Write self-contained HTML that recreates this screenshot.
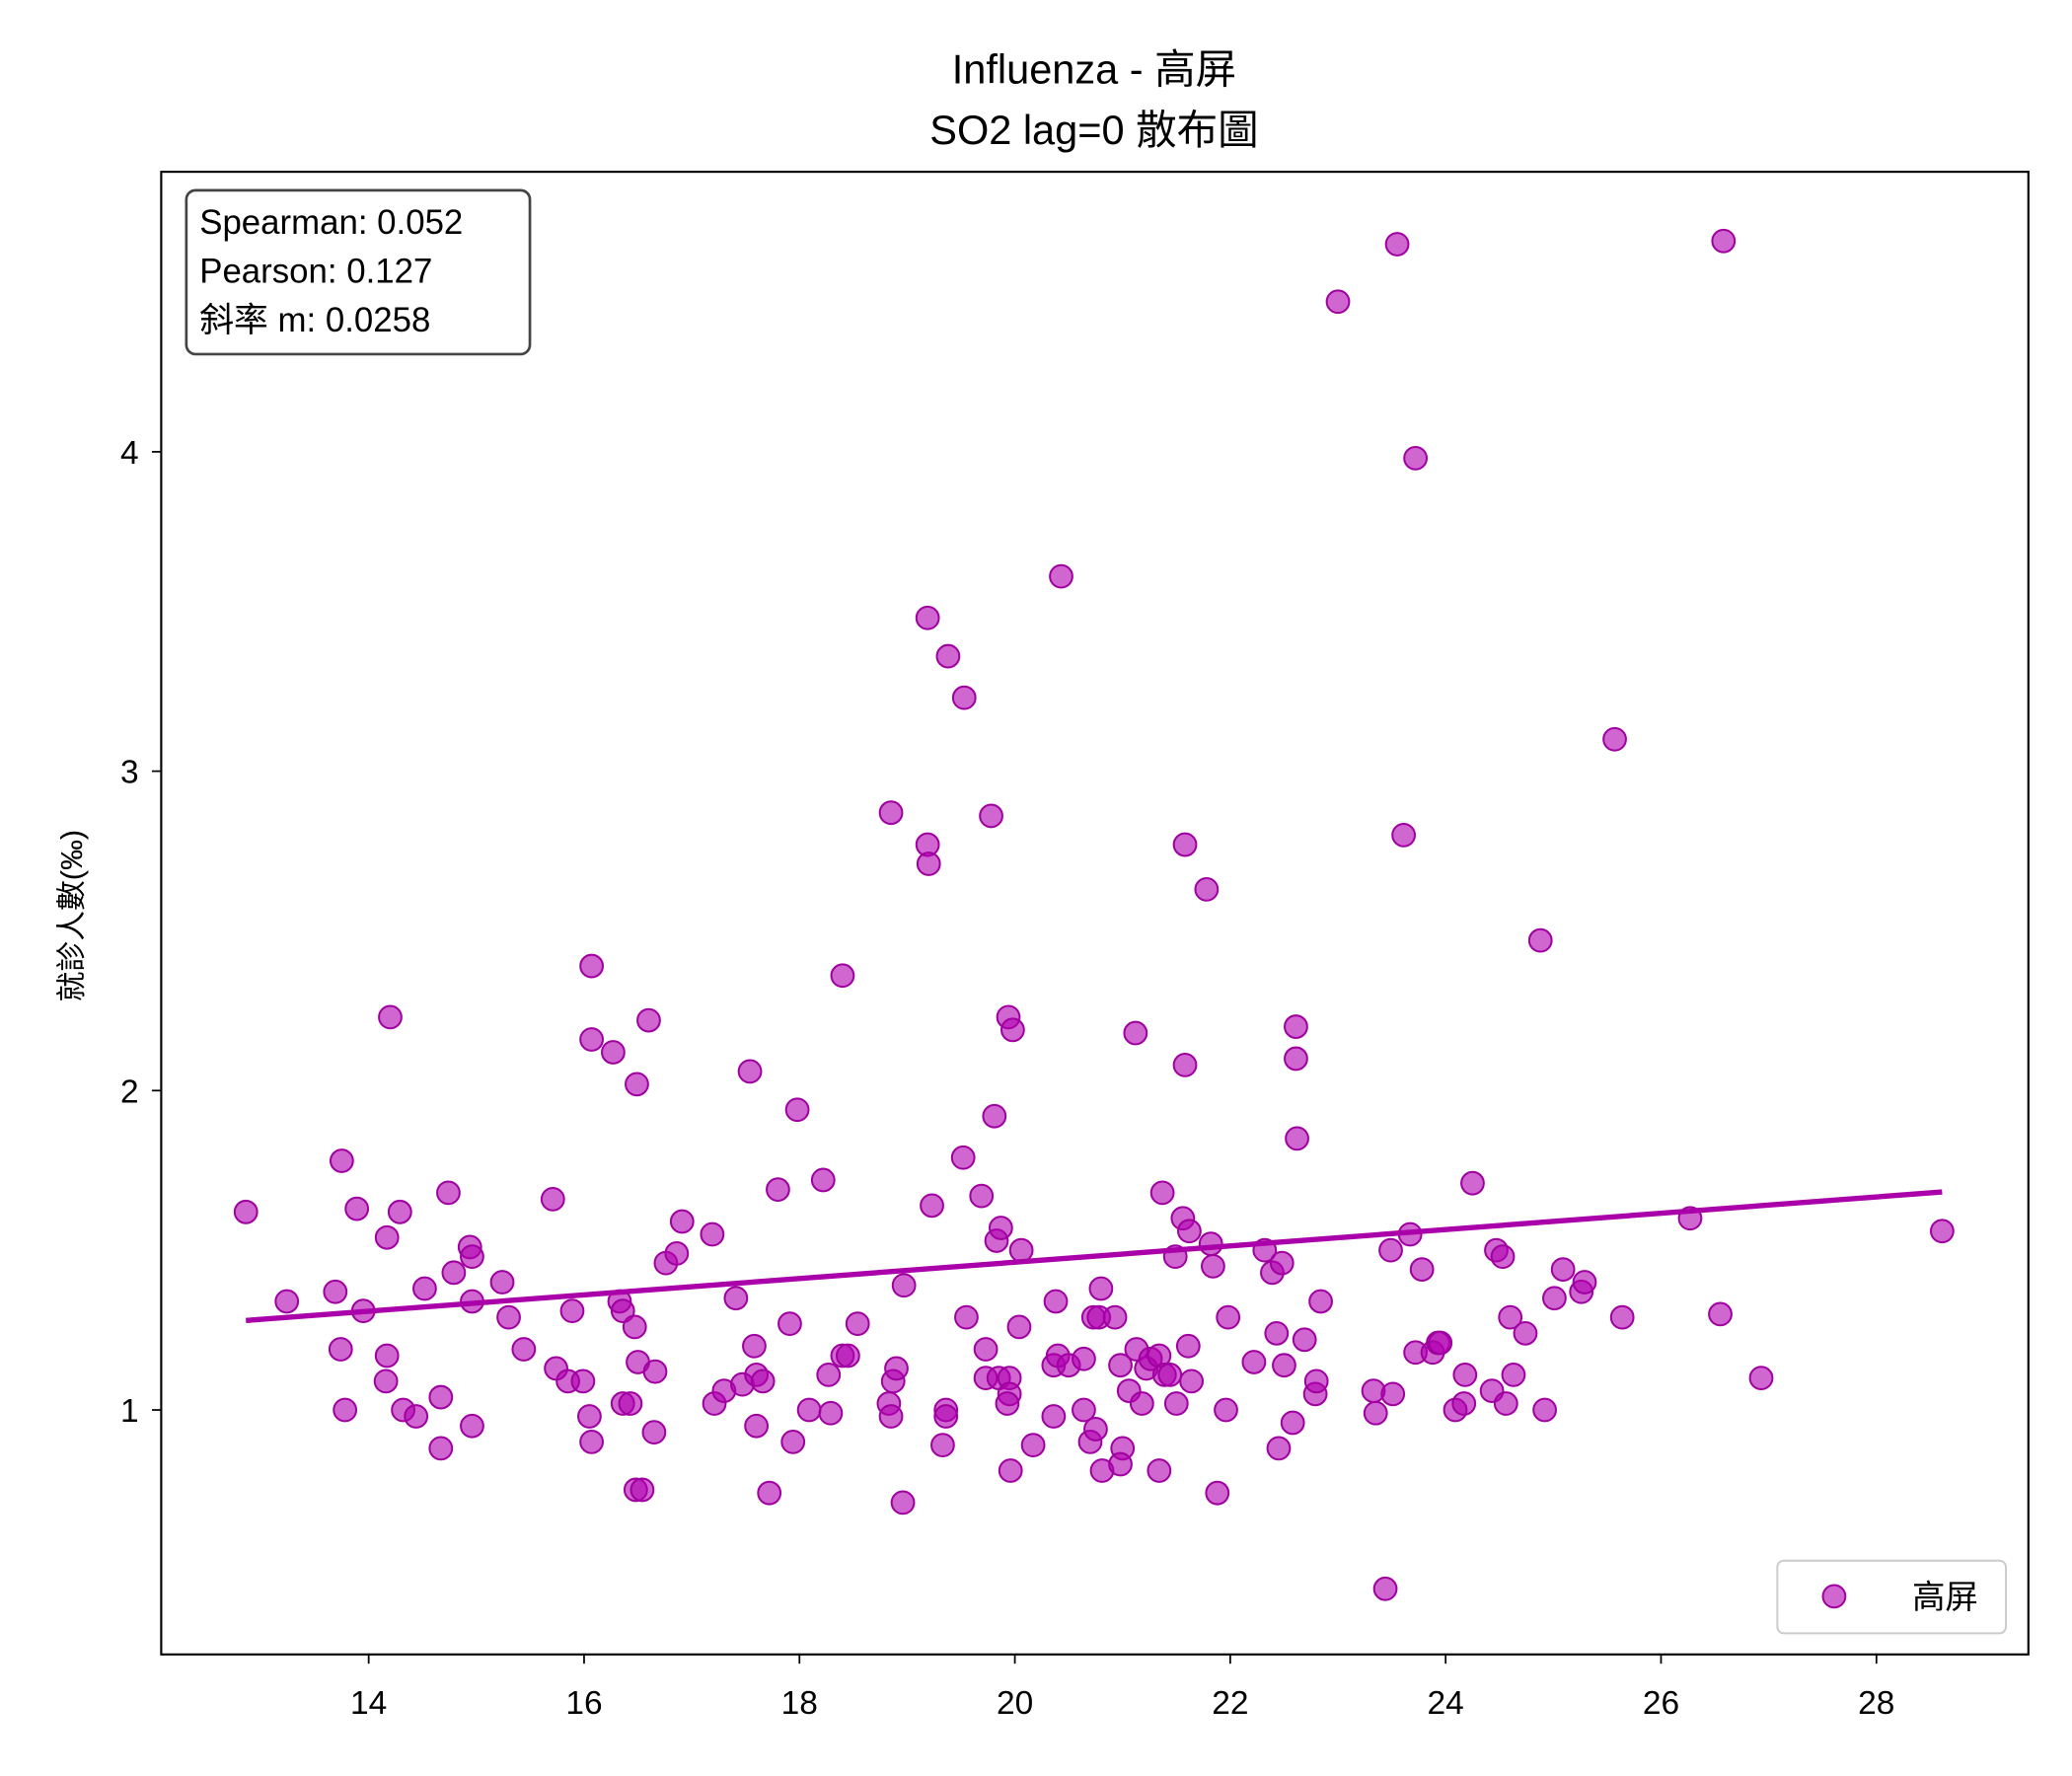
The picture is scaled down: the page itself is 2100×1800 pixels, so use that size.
<!DOCTYPE html>
<html><head><meta charset="utf-8">
<style>
html,body{margin:0;padding:0;background:#fff;}
svg{display:block;font-family:"Liberation Sans","Noto Sans CJK TC",sans-serif;}
</style></head>
<body>
<svg id="chart" width="2100" height="1800" viewBox="0 0 1568 1344" xmlns="http://www.w3.org/2000/svg">
<rect x="0" y="0" width="1568" height="1344" fill="#fff"/>
<text x="828" y="63" text-anchor="middle" font-size="31" fill="#000">Influenza - 高屏</text>
<text x="828" y="109" text-anchor="middle" font-size="31" fill="#000">SO2 lag=0 散布圖</text>
<g id="plot"></g>
<rect x="122" y="130" width="1413" height="1122" fill="none" stroke="#000" stroke-width="1.6"/>
<g id="xticks"></g>
<g id="yticks"></g>
<text transform="translate(62,693) rotate(-90)" text-anchor="middle" font-size="23" fill="#000">就診人數(‰)</text>
<g>
<rect x="141" y="144" width="260" height="124" rx="7" fill="#fff" stroke="#444" stroke-width="2"/>
<text x="151" y="177" font-size="26" fill="#000">Spearman: 0.052</text>
<text x="151" y="214" font-size="26" fill="#000">Pearson: 0.127</text>
<text x="151" y="251" font-size="26" fill="#000">斜率 m: 0.0258</text>
</g>
<g>
<rect x="1345" y="1181" width="173" height="55" rx="5" fill="#fff" stroke="#ccc" stroke-width="1.5"/>
<circle cx="1388" cy="1208" r="8.5" fill="rgba(176,0,176,0.6)" stroke="#a000a0" stroke-width="1.5"/>
<text x="1447" y="1217" font-size="25" fill="#000">高屏</text>
</g>
</svg>
<script>
const xValues=[12.86,13.24,13.69,13.75,13.74,13.78,13.89,13.95,14.17,14.16,14.17,14.20,14.29,14.32,14.44,14.52,14.67,14.67,14.74,14.79,14.94,14.96,14.96,14.96,15.24,15.30,15.44,15.71,15.74,15.85,15.89,15.99,16.05,16.07,16.07,16.07,16.27,16.33,16.36,16.36,16.43,16.47,16.49,16.50,16.48,16.54,16.60,16.65,16.66,16.76,16.86,16.91,17.19,17.21,17.30,17.41,17.47,17.54,17.58,17.60,17.60,17.66,17.72,17.80,17.91,17.94,17.98,18.09,18.22,18.27,18.29,18.40,18.40,18.45,18.54,18.83,18.85,18.85,18.87,18.90,18.96,18.97,19.19,19.19,19.20,19.23,19.33,19.38,19.36,19.36,19.53,19.52,19.55,19.69,19.73,19.73,19.78,19.81,19.83,19.87,19.85,19.94,19.98,19.95,19.95,19.93,19.96,20.04,20.06,20.17,20.36,20.36,20.38,20.43,20.40,20.50,20.64,20.64,20.70,20.73,20.78,20.75,20.80,20.81,20.93,20.98,21.00,20.98,21.06,21.12,21.13,21.18,21.22,21.26,21.34,21.34,21.37,21.39,21.44,21.49,21.50,21.56,21.58,21.58,21.61,21.62,21.64,21.78,21.82,21.84,21.88,21.96,21.98,22.22,22.32,22.39,22.43,22.45,22.48,22.50,22.58,22.61,22.61,22.62,22.69,22.79,22.80,22.84,23.00,23.33,23.35,23.44,23.49,23.51,23.55,23.61,23.67,23.72,23.72,23.78,23.88,23.93,23.95,24.09,24.17,24.18,24.25,24.43,24.47,24.53,24.56,24.60,24.63,24.74,24.88,24.92,25.01,25.09,25.26,25.29,25.57,25.64,26.27,26.55,26.58,26.93,28.61];
const yValues=[1.62,1.34,1.37,1.78,1.19,1.00,1.63,1.31,1.17,1.09,1.54,2.23,1.62,1.00,0.98,1.38,1.04,0.88,1.68,1.43,1.51,1.48,1.34,0.95,1.40,1.29,1.19,1.66,1.13,1.09,1.31,1.09,0.98,0.90,2.39,2.16,2.12,1.34,1.31,1.02,1.02,1.26,2.02,1.15,0.75,0.75,2.22,0.93,1.12,1.46,1.49,1.59,1.55,1.02,1.06,1.35,1.08,2.06,1.20,1.11,0.95,1.09,0.74,1.69,1.27,0.90,1.94,1.00,1.72,1.11,0.99,2.36,1.17,1.17,1.27,1.02,0.98,2.87,1.09,1.13,0.71,1.39,2.77,3.48,2.71,1.64,0.89,3.36,1.00,0.98,3.23,1.79,1.29,1.67,1.19,1.10,2.86,1.92,1.53,1.57,1.10,2.23,2.19,1.10,1.05,1.02,0.81,1.26,1.50,0.89,0.98,1.14,1.34,3.61,1.17,1.14,1.16,1.00,0.90,1.29,1.29,0.94,1.38,0.81,1.29,1.14,0.88,0.83,1.06,2.18,1.19,1.02,1.13,1.16,1.17,0.81,1.68,1.11,1.11,1.48,1.02,1.60,2.08,2.77,1.20,1.56,1.09,2.63,1.52,1.45,0.74,1.00,1.29,1.15,1.50,1.43,1.24,0.88,1.46,1.14,0.96,2.20,2.10,1.85,1.22,1.05,1.09,1.34,4.47,1.06,0.99,0.44,1.50,1.05,4.65,2.80,1.55,1.18,3.98,1.44,1.18,1.21,1.21,1.00,1.02,1.11,1.71,1.06,1.50,1.48,1.02,1.29,1.11,1.24,2.47,1.00,1.35,1.44,1.37,1.40,3.10,1.29,1.60,1.30,4.66,1.10,1.56];
const xTickValues=[14,16,18,20,22,24,26,28];
const yTickValues=[1,2,3,4];

const NS="http://www.w3.org/2000/svg";
function sx(v){return 279+(v-14)*81.5;}
function sy(v){return 1067-(v-1)*241.7;}
const plot=document.getElementById('plot');
for(let i=0;i<xValues.length;i++){
  const c=document.createElementNS(NS,'circle');
  
  
  c.setAttribute('cx',sx(xValues[i]));c.setAttribute('cy',sy(yValues[i]));
  c.setAttribute('r',8.5);c.setAttribute('fill','rgba(176,0,176,0.6)');
  c.setAttribute('stroke','#a000a0');c.setAttribute('stroke-width',1.5);
  plot.appendChild(c);
}
const n=xValues.length;let mx=0,my=0;
for(let i=0;i<n;i++){mx+=xValues[i];my+=yValues[i];}
mx/=n;my/=n;let sxy=0,sxx=0;
for(let i=0;i<n;i++){sxy+=(xValues[i]-mx)*(yValues[i]-my);sxx+=(xValues[i]-mx)**2;}
const m=sxy/sxx,b=my-m*mx;
const x0=Math.min(...xValues),x1=Math.max(...xValues);
const ln=document.createElementNS(NS,'line');


ln.setAttribute('x1',sx(x0));ln.setAttribute('y1',sy(m*x0+b));
ln.setAttribute('x2',sx(x1));ln.setAttribute('y2',sy(m*x1+b));
ln.setAttribute('stroke','#aa00aa');ln.setAttribute('stroke-width',4);
plot.appendChild(ln);

const xt=document.getElementById('xticks');
xTickValues.forEach(v=>{
  const l=document.createElementNS(NS,'line');
  
  
  l.setAttribute('x1',sx(v));l.setAttribute('x2',sx(v));l.setAttribute('y1',1252);l.setAttribute('y2',1259);
  l.setAttribute('stroke','#000');l.setAttribute('stroke-width',1.3);xt.appendChild(l);
  const t=document.createElementNS(NS,'text');
  
  
  t.setAttribute('x',sx(v));t.setAttribute('y',1297);t.setAttribute('text-anchor','middle');
  t.setAttribute('font-size','25');t.textContent=v;xt.appendChild(t);
});
const yt=document.getElementById('yticks');
yTickValues.forEach(v=>{
  const l=document.createElementNS(NS,'line');
  
  
  l.setAttribute('x1',115);l.setAttribute('x2',122);l.setAttribute('y1',sy(v));l.setAttribute('y2',sy(v));
  l.setAttribute('stroke','#000');l.setAttribute('stroke-width',1.3);yt.appendChild(l);
  const t=document.createElementNS(NS,'text');
  
  
  t.setAttribute('x',105);t.setAttribute('y',sy(v)+9);t.setAttribute('text-anchor','end');
  t.setAttribute('font-size','25');t.textContent=v;yt.appendChild(t);
});
</script>
</body></html>
